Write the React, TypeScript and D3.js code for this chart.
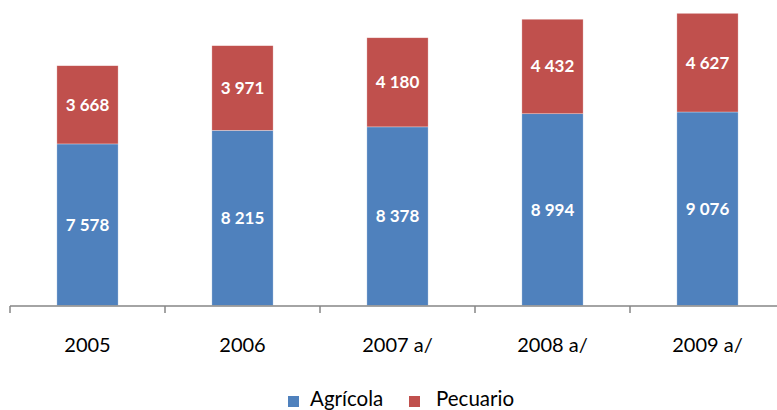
import React from "react";
import * as d3 from "d3";

const categories = ["2005", "2006", "2007 a/", "2008 a/", "2009 a/"];
const agricola = [7578, 8215, 8378, 8994, 9076];
const pecuario = [3668, 3971, 4180, 4432, 4627];
const seriesNames = ["Agrícola", "Pecuario"];
const colors = ["#4F81BD", "#C0504D"];

const W = 777;
const H = 410;
const FONT = "Lato, 'Open Sans', sans-serif";

const fmt = (v: number) => {
  const s = String(v);
  return s.length > 3 ? s.slice(0, s.length - 3) + " " + s.slice(-3) : s;
};

export default function App() {
  const x = d3.scaleBand<string>().domain(categories).range([10, 785]).padding(0);
  const y = d3.scaleLinear().domain([0, 14000]).range([305.5, 7]);
  const bw = x.bandwidth() * 0.395;
  const rows = categories.map((c, i) => ({ c, a: agricola[i], p: pecuario[i] }));
  const stack = d3.stack<any>().keys(["a", "p"])(rows as any);
  const ticks = d3.range(categories.length + 1).map((i) => 10 + i * x.step());

  return (
    <svg width={W} height={H} style={{ position: "absolute", left: 0, top: 0, background: "#fff" }}>
      {stack.map((layer, si) => (
        <g key={si}>
          {layer.map((d, i) => {
            const cx = (x(categories[i]) as number) + x.bandwidth() / 2;
            const y0 = y(d[0]);
            const y1 = y(d[1]);
            return (
              <g key={i}>
                <rect
                  x={cx - bw / 2}
                  y={y1}
                  width={bw}
                  height={y0 - y1}
                  fill={colors[si]}
                  stroke="#ffffff"
                  strokeOpacity={0.5}
                  strokeWidth={0.6}
                />
                <text
                  x={cx}
                  y={(y0 + y1) / 2}
                  dy="0.35em"
                  textAnchor="middle"
                  fill="#fff"
                  fontFamily={FONT}
                  fontWeight="bold"
                  fontSize={17}
                >
                  {fmt(d[1] - d[0])}
                </text>
              </g>
            );
          })}
        </g>
      ))}
      <line x1={10} x2={W} y1={306} y2={306} stroke="#868686" strokeWidth={1.5} />
      {ticks.map((t, i) => (
        <line key={i} x1={t} x2={t} y1={306} y2={313} stroke="#868686" strokeWidth={1.5} />
      ))}
      {categories.map((c) => (
        <text
          key={c}
          x={(x(c) as number) + x.bandwidth() / 2}
          y={352}
          textAnchor="middle"
          fontFamily={FONT}
          fontSize={20}
          fill="#000"
        >
          {c}
        </text>
      ))}
      <g>
        <rect x={288} y={396} width={11} height={11} fill={colors[0]} />
        <text x={310} y={406} fontFamily={FONT} fontSize={20.5} fill="#000">{seriesNames[0]}</text>
        <rect x={409} y={396} width={11} height={11} fill={colors[1]} />
        <text x={436} y={406} fontFamily={FONT} fontSize={20.5} fill="#000">{seriesNames[1]}</text>
      </g>
    </svg>
  );
}
